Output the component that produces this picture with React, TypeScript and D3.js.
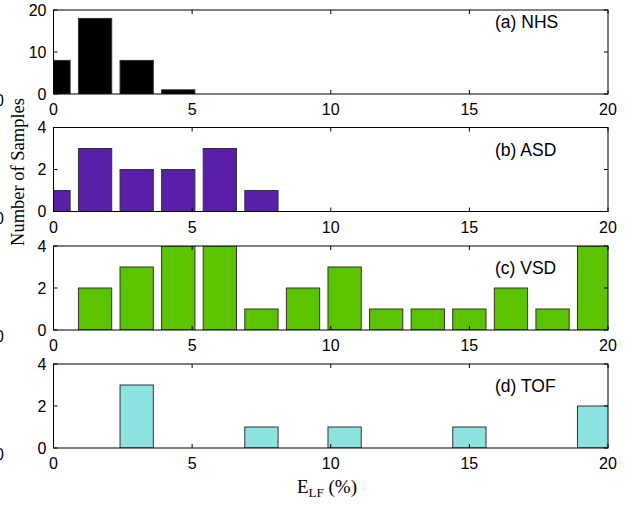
import * as React from 'react';
import * as d3 from 'd3';

// bin centres (E_LF %), MATLAB hist style
const binCenters = [0, 1.5, 3, 4.5, 6, 7.5, 9, 10.5, 12, 13.5, 15, 16.5, 18, 19.5];

const nhsCounts = [8, 18, 8, 1, 0, 0, 0, 0, 0, 0, 0, 0, 0, 0];
const asdCounts = [1, 3, 2, 2, 3, 1, 0, 0, 0, 0, 0, 0, 0, 0];
const vsdCounts = [0, 2, 3, 4, 4, 1, 2, 3, 1, 1, 1, 2, 1, 4];
const tofCounts = [0, 0, 3, 0, 0, 1, 0, 1, 0, 0, 1, 0, 0, 2];

const xTicks = [0, 5, 10, 15, 20];
const panelNames = ['(a) NHS', '(b) ASD', '(c) VSD', '(d) TOF'];
const panelCounts = [nhsCounts, asdCounts, vsdCounts, tofCounts];
const panelYMax = [20, 4, 4, 4];
const panelYTicks = [[0, 10, 20], [0, 2, 4], [0, 2, 4], [0, 2, 4]];
const panelColors = ['#000000', '#5a1ea8', '#5cc300', '#8ce3e0'];

const width = 629;
const height = 506;
const left = 53.5;
const right = 608;
const panelTop = [10, 127.5, 246, 364];
const panelH = 84;
const tickLen = 4;

const x = d3.scaleLinear().domain([0, 20]).range([left, right]);
const barW = (binCenters[1] - binCenters[0]) * 0.8;

const Panel = ({ i }: { i: number }) => {
  const top = panelTop[i];
  const y = d3.scaleLinear().domain([0, panelYMax[i]]).range([top + panelH, top]);
  const counts = panelCounts[i];
  const clipId = `clip-${i}`;
  const labelY = i === 0 ? top + 18 : top + 28;
  return (
    <g>
      <defs>
        <clipPath id={clipId}>
          <rect x={left} y={top} width={right - left} height={panelH} />
        </clipPath>
      </defs>
      <g clipPath={`url(#${clipId})`}>
        {counts.map((c, k) => c > 0 ? (
          <rect
            key={k}
            x={x(binCenters[k] - barW / 2)}
            y={y(c)}
            width={x(barW) - x(0)}
            height={y(0) - y(c)}
            fill={panelColors[i]}
            stroke="#333"
            strokeWidth={1}
          />
        ) : null)}
      </g>
      <rect x={left} y={top} width={right - left} height={panelH} fill="none" stroke="#000" strokeWidth={1} />
      {xTicks.map((t) => (
        <g key={t}>
          <line x1={x(t)} x2={x(t)} y1={top + panelH} y2={top + panelH - tickLen} stroke="#000" />
          <line x1={x(t)} x2={x(t)} y1={top} y2={top + tickLen} stroke="#000" />
          <text x={x(t)} y={top + panelH + 21} textAnchor="middle" fontSize={16} fontFamily="Liberation Sans, Arial, sans-serif">{t}</text>
        </g>
      ))}
      {panelYTicks[i].map((t) => (
        <g key={t}>
          <line x1={left} x2={left + tickLen} y1={y(t)} y2={y(t)} stroke="#000" />
          <line x1={right} x2={right - tickLen} y1={y(t)} y2={y(t)} stroke="#000" />
          <text x={left - 7} y={y(t) + 5.5} textAnchor="end" fontSize={16} fontFamily="Liberation Sans, Arial, sans-serif">{t}</text>
        </g>
      ))}
      {/* leftover label cut by the page edge, as in the source figure */}
      <text x={4} y={top + panelH + 12} textAnchor="end" fontSize={16} fontFamily="Liberation Sans, Arial, sans-serif">0</text>
      <text x={495} y={labelY} fontSize={17.5} fontFamily="Liberation Sans, Arial, sans-serif">{panelNames[i]}</text>
    </g>
  );
};

export default function App() {
  return (
    <div style={{ position: 'absolute', left: 0, top: 0 }}>
      <svg width={width} height={height} style={{ display: 'block', background: '#fff' }}>
        {panelNames.map((_, i) => <Panel key={i} i={i} />)}
        <text
          transform="translate(24,172) rotate(-90)"
          textAnchor="middle"
          fontSize={18.5}
          fontFamily="Liberation Serif, Times New Roman, serif"
        >
          Number of Samples
        </text>
        <text x={297} y={493} fontSize={19} fontFamily="Liberation Serif, Times New Roman, serif">
          E<tspan fontSize={13} dy={4}>LF</tspan><tspan dy={-4}> (%)</tspan>
        </text>
      </svg>
    </div>
  );
}
